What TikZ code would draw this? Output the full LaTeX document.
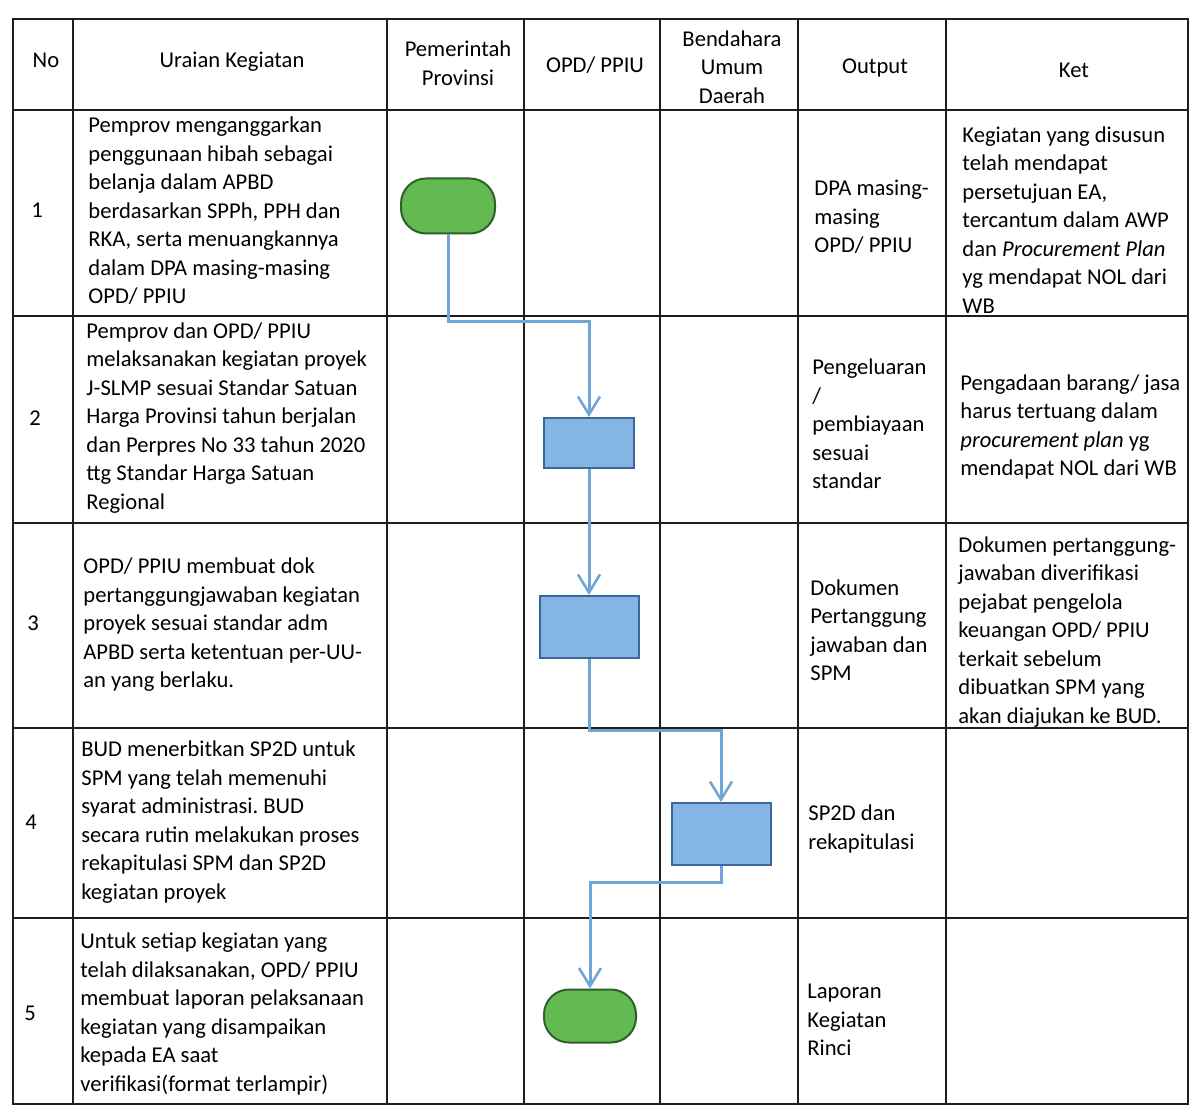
\documentclass[tikz,border=0pt]{standalone}
\usepackage{fontspec}
\setmainfont{Carlito}
\usetikzlibrary{arrows.meta}
\frenchspacing
\definecolor{gridc}{RGB}{30,30,30}
\definecolor{flowc}{RGB}{112,166,214}
\definecolor{boxfill}{RGB}{132,181,229}
\definecolor{boxdraw}{RGB}{58,104,152}
\definecolor{termfill}{RGB}{100,186,82}
\definecolor{termdraw}{RGB}{46,96,40}
\tikzset{
  grid/.style={draw=gridc, line width=1pt},
  txt/.style={inner sep=0pt, align=left, anchor=west, font=\fontsize{11.3}{14.25}\selectfont},
  hdr/.style={inner sep=0pt, align=center, font=\fontsize{11.3}{14.25}\selectfont},
  num/.style={inner sep=0pt, font=\fontsize{11.3}{14.25}\selectfont},
  procbox/.style={draw=boxdraw, fill=boxfill, line width=1pt, minimum width=49.5pt, minimum height=31pt, inner sep=0pt},
  termbox/.style={draw=termdraw, fill=termfill, line width=1pt, rounded corners=12.5pt, minimum width=47pt, minimum height=27.5pt, inner sep=0pt},
  flow/.style={draw=flowc, line width=1.5pt, -{Straight Barb[length=9pt,width=11pt,line width=1.3pt]}}
}
\begin{document}
\begin{tikzpicture}[x=0.5pt,y=-0.5pt]
\useasboundingbox (0,0) rectangle (1189,1107);
% table grid
\draw[grid] (13,19) rectangle (1188,1104);
\foreach \yy in {110,316,523,728,918} \draw[grid] (13,\yy) -- (1188,\yy);
\foreach \xx in {73,387,524,660,798,946} \draw[grid] (\xx,19) -- (\xx,1104);
% header
\node[hdr] (hno) at (46,60) {No};
\node[hdr] (hur) at (232,62) {Uraian Kegiatan};
\node[hdr] (hpp) at (458,63) {Pemerintah\\Provinsi};
\node[hdr] (hopd) at (595,65) {OPD/ PPIU};
\node[hdr] (hbud) at (732,67) {Bendahara\\Umum\\Daerah};
\node[hdr] (hout) at (875,68) {Output};
\node[hdr] (hket) at (1074,70) {Ket};
% row numbers
\node[num] (n1) at (37,210) {1};
\node[num] (n2) at (35,418) {2};
\node[num] (n3) at (33,623) {3};
\node[num] (n4) at (31,822) {4};
\node[num] (n5) at (30,1013) {5};
% uraian
\node[txt] (u1) at (88,211) {Pemprov menganggarkan\\penggunaan hibah sebagai\\belanja dalam APBD\\berdasarkan SPPh, PPH dan\\RKA, serta menuangkannya\\dalam DPA masing-masing\\OPD/ PPIU};
\node[txt] (u2) at (86,418) {Pemprov dan OPD/ PPIU\\melaksanakan kegiatan proyek\\J-SLMP sesuai Standar Satuan\\Harga Provinsi tahun berjalan\\dan Perpres No 33 tahun 2020\\ttg Standar Harga Satuan\\Regional};
\node[txt] (u3) at (83,625) {OPD/ PPIU membuat dok\\pertanggungjawaban kegiatan\\proyek sesuai standar adm\\APBD serta ketentuan per-UU-\\an yang berlaku.};
\node[txt] (u4) at (81,822) {BUD menerbitkan SP2D untuk\\SPM yang telah memenuhi\\syarat administrasi. BUD\\secara rutin melakukan proses\\rekapitulasi SPM dan SP2D\\kegiatan proyek};
\node[txt] (u5) at (80,1014) {Untuk setiap kegiatan yang\\telah dilaksanakan, OPD/ PPIU\\membuat laporan pelaksanaan\\kegiatan yang disampaikan\\kepada EA saat\\verifikasi(format terlampir)};
% output
\node[txt] (o1) at (814,217) {DPA masing-\\masing\\OPD/ PPIU};
\node[txt] (o2) at (812,424) {Pengeluaran\\/\\pembiayaan\\sesuai\\standar};
\node[txt] (o3) at (810,630) {Dokumen\\Pertanggung\\jawaban dan\\SPM};
\node[txt] (o4) at (808,829) {SP2D dan\\rekapitulasi};
\node[txt] (o5) at (807,1020) {Laporan\\Kegiatan\\Rinci};
% ket
\node[txt] (k1) at (962,220) {Kegiatan yang disusun\\telah mendapat\\persetujuan EA,\\tercantum dalam AWP\\dan \textit{Procurement Plan}\\yg mendapat NOL dari\\WB};
\node[txt] (k2) at (960,427) {Pengadaan barang/ jasa\\harus tertuang dalam\\\textit{procurement plan} yg\\mendapat NOL dari WB};
\node[txt] (k3) at (958,632) {Dokumen pertanggung-\\jawaban diverifikasi\\pejabat pengelola\\keuangan OPD/ PPIU\\terkait sebelum\\dibuatkan SPM yang\\akan diajukan ke BUD.};
% flow shapes
\node[termbox] (g1) at (448,206) {};
\node[procbox, minimum width=45pt, minimum height=25pt] (b2) at (589,443) {};
\node[procbox] (b3) at (589,627) {};
\node[procbox] (b4) at (721,834) {};
\node[termbox, minimum width=46pt, minimum height=26.5pt] (g2) at (590,1016) {};
% connectors
\draw[flow] (g1.south) -- (g1.south |- 0,322) -| (b2.north);
\draw[flow] (b2.south) -- (b3.north);
\draw[flow] (b3.south) -- (b3.south |- 0,730) -| (b4.north);
\draw[flow] (b4.south) -- (b4.south |- 0,882) -| (g2.north);
\end{tikzpicture}
\end{document}
